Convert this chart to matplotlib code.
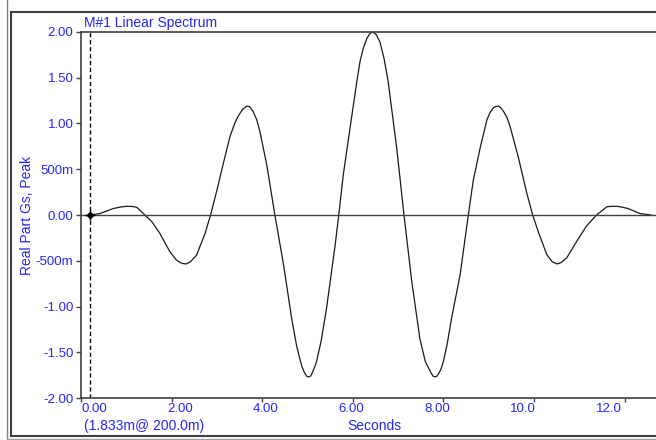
import numpy as np
import matplotlib
matplotlib.use('Agg')
import matplotlib.pyplot as plt
from matplotlib.lines import Line2D

# values (seconds, real part Gs)
t_sec = [0.20, 0.42, 0.71, 0.88, 1.01, 1.13, 1.23, 1.41, 1.56, 1.74, 1.96, 2.10, 2.19, 2.25,
         2.32, 2.42, 2.55, 2.74, 2.86, 3.00, 3.14, 3.29, 3.40, 3.47, 3.56, 3.66, 3.72, 3.80,
         3.88, 3.95, 4.10, 4.28, 4.47, 4.65, 4.76, 4.83, 4.88, 4.93, 4.98, 5.02, 5.07, 5.11,
         5.16, 5.20, 5.30, 5.42, 5.61, 5.69, 5.79, 5.98, 6.08, 6.16, 6.23, 6.31, 6.38, 6.44,
         6.52, 6.60, 6.69, 6.78, 6.97, 7.13, 7.30, 7.48, 7.60, 7.67, 7.72, 7.77, 7.81, 7.86,
         7.90, 7.95, 8.00, 8.08, 8.18, 8.37, 8.55, 8.66, 8.81, 8.96, 9.03, 9.10, 9.15, 9.21,
         9.27, 9.33, 9.40, 9.47, 9.65, 9.84, 9.97, 10.10, 10.28, 10.40, 10.51, 10.60, 10.72,
         10.94, 11.16, 11.38, 11.61, 11.72, 11.83, 11.95, 12.08, 12.34, 12.58]
real_gs = [0.00, 0.016, 0.07, 0.088, 0.095, 0.093, 0.085, 0.0, -0.07, -0.20, -0.40, -0.49,
           -0.52, -0.53, -0.535, -0.51, -0.44, -0.20, 0.0, 0.27, 0.56, 0.86, 1.01, 1.08,
           1.15, 1.19, 1.185, 1.13, 1.04, 0.91, 0.55, 0.0, -0.54, -1.13, -1.43, -1.57, -1.66,
           -1.72, -1.76, -1.77, -1.76, -1.72, -1.66, -1.60, -1.38, -1.02, -0.33, 0.0, 0.44,
           1.09, 1.43, 1.68, 1.82, 1.93, 1.985, 2.00, 1.97, 1.89, 1.71, 1.46, 0.73, 0.0, -0.72,
           -1.35, -1.60, -1.67, -1.72, -1.76, -1.77, -1.76, -1.73, -1.68, -1.60, -1.42, -1.13,
           -0.65, 0.0, 0.38, 0.73, 1.04, 1.12, 1.17, 1.185, 1.19, 1.17, 1.13, 1.07, 0.97, 0.64,
           0.24, 0.0, -0.19, -0.43, -0.51, -0.535, -0.52, -0.47, -0.29, -0.12, 0.0, 0.09,
           0.095, 0.095, 0.085, 0.07, 0.016, 0.0]

xticks = [0, 2, 4, 6, 8, 10, 12]
xtick_labels = ['0.00', '2.00', '4.00', '6.00', '8.00', '10.0', '12.0']
yticks = [2.0, 1.5, 1.0, 0.5, 0.0, -0.5, -1.0, -1.5, -2.0]
ytick_labels = ['2.00', '1.50', '1.00', '500m', '0.00', '-500m', '-1.00', '-1.50', '-2.00']
cursor_t = 0.2

blue = '#2626f5'
dark = '#404040'
plt.rcParams['font.family'] = ['Liberation Sans', 'DejaVu Sans']

W, H = 656, 440
fig = plt.figure(figsize=(W / 100, H / 100), dpi=100)
ax = fig.add_axes([81 / W, 1 - 398 / H, 1 - 81 / W, 366 / H])

ax.plot(t_sec, real_gs, color='#1a1a1a', lw=0.9)
ax.axhline(0, color=dark, lw=1.0)
ax.axvline(cursor_t, color='black', lw=1.0, linestyle=(0, (3, 2)))
ax.plot([cursor_t], [0], marker='D', ms=3.2, color='black')
ax.plot([cursor_t], [0], marker='+', ms=7, mew=1.0, color='black')

ax.set_xlim(0, (W - 81) / 45.3)
ax.set_ylim(-2, 2)

# tick marks on the round values, labels drawn slightly off as in the original
ax.set_xticks(xticks)
ax.set_xticklabels([])
ax.set_xticks([0.287 + 0.947 * v for v in xticks], minor=True)
ax.set_xticklabels(xtick_labels, minor=True)
ax.tick_params(axis='x', which='minor', length=0, pad=3.5, labelcolor=blue, labelsize=9.5)
ax.tick_params(axis='x', which='major', length=3, width=1, color=dark)
ax.set_yticks(yticks)
ax.set_yticklabels(ytick_labels)
ax.tick_params(axis='y', length=3.5, width=1, color=dark, pad=2, labelcolor=blue, labelsize=9.5)

for side in ['left', 'bottom', 'top']:
    ax.spines[side].set_color(dark)
    ax.spines[side].set_linewidth(1.2)
ax.spines['right'].set_visible(False)

fig.text(84 / W, 1 - 23 / H, 'M#1 Linear Spectrum', color=blue, fontsize=10, va='center', ha='left')
fig.text(27 / W, 1 - 215 / H, 'Real Part Gs, Peak', color=blue, fontsize=10, rotation=90,
         va='center', ha='center')
fig.text(84 / W, 1 - 426 / H, '(1.833m@ 200.0m)', color=blue, fontsize=10, va='center', ha='left')
fig.text(374 / W, 1 - 426 / H, 'Seconds', color=blue, fontsize=10, va='center', ha='center')

# window frame
fig.add_artist(Line2D([11 / W, 1], [1 - 12.5 / H, 1 - 12.5 / H], color=dark, lw=1.5))
fig.add_artist(Line2D([11 / W, 11 / W], [1 - 12.5 / H, 1 - 436 / H], color=dark, lw=1.5))
fig.add_artist(Line2D([11 / W, 1], [1 - 436 / H, 1 - 436 / H], color=dark, lw=1.5))
fig.add_artist(Line2D([6.5 / W, 6.5 / W], [1, 1 - 438 / H], color='#808080', lw=1.0))
fig.add_artist(Line2D([6.5 / W, 1], [1 - 438.5 / H, 1 - 438.5 / H], color='#a0a0a0', lw=1.0))

fig.savefig('out.png', dpi=100)
